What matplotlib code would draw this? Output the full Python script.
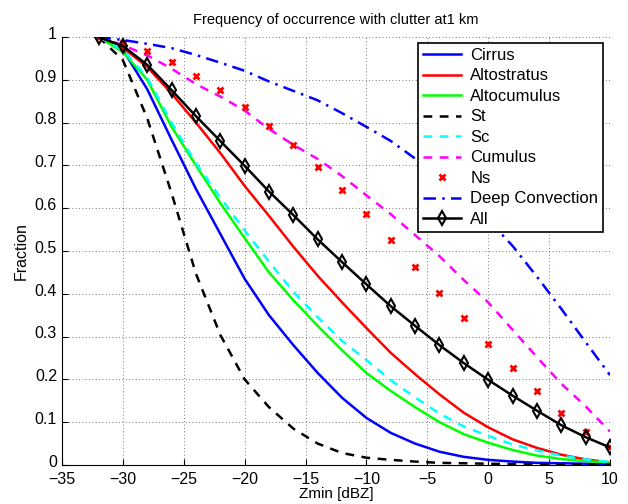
import numpy as np
import matplotlib
matplotlib.use("Agg")
import matplotlib.pyplot as plt
from matplotlib.transforms import ScaledTranslation

plt.rcParams["font.family"] = ["Liberation Sans", "DejaVu Sans"]

zmin = list(range(-32, 11, 2))

cirrus = [1.0, 0.970, 0.878, 0.760, 0.645, 0.540, 0.435, 0.350, 0.280, 0.215, 0.157,
          0.110, 0.075, 0.050, 0.031, 0.019, 0.012, 0.008, 0.005, 0.004, 0.003, 0.002]
altostratus = [1.0, 0.975, 0.930, 0.868, 0.800, 0.729, 0.652, 0.582, 0.510, 0.442, 0.380,
               0.320, 0.262, 0.212, 0.165, 0.122, 0.088, 0.060, 0.040, 0.024, 0.013, 0.006]
altocumulus = [1.0, 0.965, 0.900, 0.790, 0.700, 0.612, 0.530, 0.450, 0.385, 0.325, 0.268,
               0.215, 0.173, 0.135, 0.100, 0.072, 0.052, 0.035, 0.022, 0.014, 0.009, 0.006]
st = [1.0, 0.946, 0.810, 0.635, 0.447, 0.304, 0.200, 0.135, 0.085, 0.050, 0.028,
      0.017, 0.012, 0.008, 0.005, 0.004, 0.003, 0.002, 0.002, 0.001, 0.001, 0.001]
sc = [1.0, 0.970, 0.905, 0.800, 0.705, 0.625, 0.548, 0.475, 0.405, 0.345, 0.290,
      0.245, 0.198, 0.158, 0.120, 0.090, 0.068, 0.048, 0.034, 0.022, 0.013, 0.007]
cumulus = [1.0, 0.981, 0.957, 0.926, 0.890, 0.861, 0.828, 0.785, 0.748, 0.715, 0.675,
           0.630, 0.586, 0.537, 0.488, 0.432, 0.380, 0.316, 0.252, 0.190, 0.137, 0.078]
ns = [1.0, 0.985, 0.968, 0.941, 0.910, 0.875, 0.837, 0.793, 0.748, 0.697, 0.643,
      0.586, 0.526, 0.463, 0.403, 0.343, 0.283, 0.226, 0.173, 0.121, 0.078, 0.043]
deep_conv = [1.0, 0.993, 0.984, 0.974, 0.958, 0.940, 0.921, 0.896, 0.874, 0.852, 0.822,
             0.790, 0.757, 0.716, 0.673, 0.625, 0.573, 0.512, 0.440, 0.365, 0.287, 0.210]
all_types = [1.0, 0.979, 0.935, 0.876, 0.815, 0.757, 0.699, 0.639, 0.584, 0.527, 0.474,
             0.422, 0.371, 0.325, 0.280, 0.238, 0.199, 0.162, 0.127, 0.093, 0.065, 0.041]

fig = plt.figure(figsize=(6.28, 5.04), dpi=100)
ax = fig.add_axes([0.0987, 0.0774, 0.8726, 0.8492])

lw = 1.8
ax.plot(zmin, cirrus, color="#0000ff", lw=lw, label="Cirrus")
ax.plot(zmin, altostratus, color="#ff0000", lw=lw, label="Altostratus")
ax.plot(zmin, altocumulus, color="#00ff00", lw=lw, label="Altocumulus")
ax.plot(zmin, st, color="black", lw=lw, dashes=(3.5, 3), label="St")
ax.plot(zmin, sc, color="#00ffff", lw=lw, dashes=(3.5, 3), label="Sc")
ax.plot(zmin, cumulus, color="#ff00ff", lw=lw, dashes=(3.5, 3), label="Cumulus")
ax.plot(zmin, ns, color="#ff0000", ls="none", marker="x", ms=4.5, mew=2, label="Ns")
ax.plot(zmin, deep_conv, color="#0000ff", lw=lw, dashes=(5, 2.5, 1, 2.5), label="Deep Convection")
ax.plot(zmin, all_types, color="black", lw=lw, marker="d", ms=7.5, mew=1.5,
        mfc="none", label="All")

ax.set_xlim(-35, 10)
ax.set_ylim(0, 1)
ax.set_xticks(np.arange(-35, 11, 5))
ax.set_yticks(np.arange(0, 1.01, 0.1))
ax.set_yticklabels(["0", "0.1", "0.2", "0.3", "0.4", "0.5", "0.6", "0.7", "0.8", "0.9", "1"])
ax.tick_params(direction="in", labelsize=11.5, length=4, width=0.8)
ax.tick_params(axis="x", pad=5)

# nudge y tick labels up a little, like the original
shift = ScaledTranslation(0, 3 / 72, fig.dpi_scale_trans)
for t in ax.yaxis.get_major_ticks():
    t.label1.set_transform(t.label1.get_transform() + shift)

ax.spines["top"].set_visible(False)
ax.spines["right"].set_visible(False)
ax.grid(True, linestyle=(0, (1, 3)), color="black", linewidth=0.6, alpha=0.7)

ax.set_title("Frequency of occurrence with clutter at1 km", fontsize=10.5, pad=9)
ax.set_xlabel("Zmin [dBZ]", fontsize=11, labelpad=0)
ax.set_ylabel("Fraction", fontsize=11.5, labelpad=4)

leg = ax.legend(loc="upper right", bbox_to_anchor=(0.9875, 0.986), fontsize=12,
                frameon=True, fancybox=False, edgecolor="black", framealpha=1,
                handlelength=2.3, handletextpad=0.55, labelspacing=0.33,
                borderpad=0.3, borderaxespad=0)
leg.get_frame().set_linewidth(1.2)

fig.savefig("out.png", dpi=100)
